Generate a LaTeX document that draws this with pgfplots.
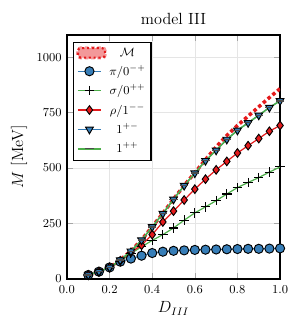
\documentclass[border=0pt]{standalone}
\usepackage{pgfplots}
\pgfplotsset{compat=1.18}
\definecolor{cblue}{RGB}{55,126,184}
\definecolor{cred}{RGB}{228,26,28}
\definecolor{cgreen}{RGB}{77,175,74}
\pgfplotstableread{
x pi sigma rho t M
0.10 18 18 18 18 18
0.15 33 33 33 33 33
0.20 52 52 52 52 52
0.25 78 80 82 85 86
0.30 92 115 120 125 126
0.35 105 145 152 175 176
0.40 117 174 200 235 236
0.45 123 200 257 295 296
0.50 127 230 306 359 360
0.55 129 265 356 421 422
0.60 131 298 405 477 479
0.65 132 325 450 533 538
0.70 133 353 492 580 595
0.75 134 383 530 629 647
0.80 135 412 568 670 692
0.85 136 435 601 704 734
0.90 136 457 633 738 776
0.95 137 482 666 773 818
1.00 138 505 692 803 858
}\data
\begin{document}
\begin{tikzpicture}
\begin{axis}[
  scale only axis, width=157.8pt, height=180.7pt,
  xmin=0, xmax=1, ymin=0, ymax=1100,
  xtick={0,0.2,0.4,0.6,0.8,1.0},
  xticklabels={0.0,0.2,0.4,0.6,0.8,1.0},
  ytick={0,250,500,750,1000},
  yticklabel style={/pgf/number format/1000 sep={}, xshift=-0.5pt},
  xticklabel style={yshift=-1pt},
  tick label style={font=\small},
  tick align=inside, tick style={gray!70, thin},
  grid=major, grid style={gray!20, thin},
  axis line style={line width=1.1pt},
  title={model III}, title style={font=\large, yshift=-2pt},
  xlabel={$D_{III}$}, ylabel={$M$ [MeV]},
  label style={font=\large},
  xlabel style={yshift=1pt},
  legend style={at={(0.027,0.973)}, anchor=north west, draw=black, line width=1.1pt, font=\small, cells={anchor=center}, row sep=1.2pt, inner sep=2pt},
  legend cell align=center,
]
\addplot[cred, dotted, line width=2.6pt, legend image code/.code={
  \fill[cred!45, rounded corners=2pt] (0pt,-3.5pt) rectangle (20pt,3.5pt);
  \draw[cred, dotted, line width=1.6pt, rounded corners=2pt] (0pt,-3.5pt) rectangle (20pt,3.5pt);}] table[x=x,y=M]{\data};
\addlegendentry{$\mathcal{M}$}
\addplot[cblue, line width=0.9pt, mark=*, mark size=3.4pt, mark options={fill=cblue, draw=black, line width=0.7pt}] table[x=x,y=pi]{\data};
\addlegendentry{$\pi/0^{-+}$}
\addplot[cgreen, line width=0.9pt, mark=+, mark size=3.5pt, mark options={draw=black, line width=0.8pt}] table[x=x,y=sigma]{\data};
\addlegendentry{$\sigma/0^{++}$}
\addplot[cred, line width=0.9pt, mark=diamond*, mark size=3.2pt, mark options={fill=cred, draw=black, line width=0.7pt}] table[x=x,y=rho]{\data};
\addlegendentry{$\rho/1^{--}$}
\addplot[cblue, line width=0.9pt, mark=triangle*, mark size=3.3pt, mark options={fill=cblue, draw=black, line width=0.7pt, rotate=180}] table[x=x,y=t]{\data};
\addlegendentry{$1^{+-}$}
\addplot[cgreen, line width=1.1pt, mark=-, mark size=3pt, mark options={draw=black!70, line width=1pt}] table[x=x,y=t]{\data};
\addlegendentry{$1^{++}$}
\end{axis}
\pgfresetboundingbox
\path[use as bounding box] ([shift={(-49.6pt,-36.3pt)}]current axis.south west) rectangle ([shift={(14.1pt,25.9pt)}]current axis.north east);
\end{tikzpicture}
\end{document}
